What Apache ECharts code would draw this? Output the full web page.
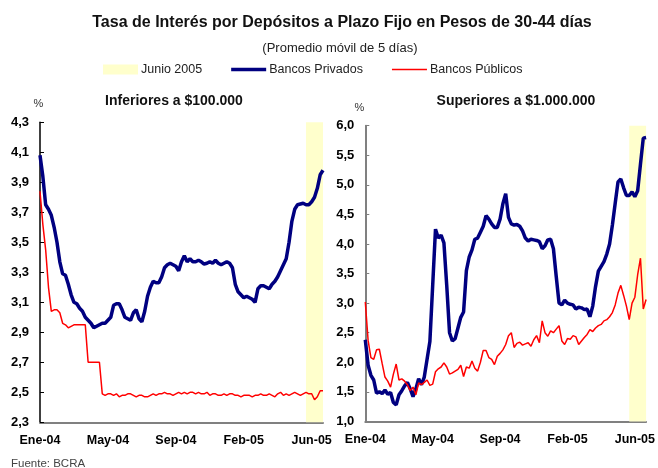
<!DOCTYPE html>
<html>
<head>
<meta charset="utf-8">
<title>Tasa de Interés por Depósitos a Plazo Fijo</title>
<script src="https://cdn.jsdelivr.net/npm/echarts@6/dist/echarts.min.js"></script>
<style>
    html, body { margin: 0; padding: 0; background: #fff; }
    #main { width: 658px; height: 468px; }
</style>
</head>
<body>
<div id="main"></div>
<script>
// etiquetas del eje x (una cada 24 puntos)
var tickLabels = ['Ene-04', 'May-04', 'Sep-04', 'Feb-05', 'Jun-05'];
var tickEvery = 24;
var shadeFrom = 94; // comienzo de junio 2005

// Inferiores a $100.000
var privadosInf = [4.08, 3.94, 3.75, 3.72, 3.68, 3.60, 3.50, 3.37, 3.29, 3.28,
    3.22, 3.15, 3.10, 3.09, 3.06, 3.04, 3.00, 2.98, 2.96, 2.93,
    2.94, 2.95, 2.96, 2.96, 2.98, 3.00, 3.08, 3.09, 3.09, 3.05,
    3.00, 2.99, 2.98, 3.03, 3.05, 2.99, 2.97, 3.04, 3.14, 3.20,
    3.24, 3.23, 3.23, 3.27, 3.33, 3.35, 3.36, 3.35, 3.34, 3.31,
    3.37, 3.41, 3.37, 3.39, 3.37, 3.37, 3.38, 3.37, 3.355, 3.36,
    3.37, 3.36, 3.38, 3.36, 3.35, 3.36, 3.37, 3.36, 3.33, 3.22,
    3.17, 3.15, 3.13, 3.14, 3.13, 3.12, 3.10, 3.19, 3.21, 3.21,
    3.20, 3.19, 3.22, 3.24, 3.27, 3.31, 3.35, 3.39, 3.50, 3.64,
    3.72, 3.75, 3.755, 3.76, 3.75, 3.75, 3.77, 3.80, 3.86, 3.95,
    3.98];
var publicosInf = [3.84, 3.62, 3.45, 3.20, 3.04, 3.05, 3.05, 3.03, 2.96, 2.95,
    2.93, 2.94, 2.95, 2.95, 2.95, 2.95, 2.95, 2.70, 2.70, 2.70,
    2.70, 2.70, 2.49, 2.48, 2.49, 2.49, 2.48, 2.49, 2.47, 2.48,
    2.48, 2.49, 2.49, 2.48, 2.47, 2.48, 2.48, 2.47, 2.47, 2.48,
    2.49, 2.48, 2.49, 2.49, 2.50, 2.49, 2.49, 2.48, 2.49, 2.50,
    2.49, 2.50, 2.49, 2.50, 2.50, 2.49, 2.50, 2.49, 2.49, 2.50,
    2.48, 2.49, 2.49, 2.48, 2.48, 2.49, 2.48, 2.49, 2.49, 2.48,
    2.48, 2.47, 2.48, 2.48, 2.48, 2.47, 2.48, 2.48, 2.49, 2.48,
    2.48, 2.49, 2.48, 2.47, 2.49, 2.50, 2.48, 2.49, 2.48, 2.49,
    2.50, 2.49, 2.48, 2.49, 2.50, 2.49, 2.49, 2.45, 2.47, 2.51,
    2.51];

// Superiores a $1.000.000
var privadosSup = [2.38, 1.95, 1.78, 1.70, 1.48, 1.50, 1.47, 1.53, 1.46, 1.49,
    1.32, 1.28, 1.45, 1.52, 1.60, 1.66, 1.55, 1.42, 1.55, 1.72,
    1.62, 1.75, 2.05, 2.35, 3.30, 4.25, 4.10, 4.15, 4.02, 3.30,
    2.50, 2.36, 2.40, 2.58, 2.76, 2.85, 3.55, 3.78, 3.90, 4.08,
    4.10, 4.20, 4.30, 4.48, 4.42, 4.34, 4.28, 4.28, 4.42, 4.68,
    4.85, 4.45, 4.34, 4.32, 4.33, 4.30, 4.22, 4.10, 4.05, 4.08,
    4.07, 4.06, 4.04, 3.92, 3.97, 4.07, 4.08, 3.92, 3.45, 3.00,
    2.97, 3.05, 3.00, 2.98, 2.97, 2.90, 2.93, 2.92, 2.89, 2.90,
    2.77, 2.95, 3.28, 3.54, 3.62, 3.70, 3.83, 4.00, 4.32, 4.69,
    5.05, 5.10, 4.95, 4.82, 4.82, 4.88, 4.80, 4.90, 5.35, 5.79,
    5.80];
var publicosSup = [3.02, 2.37, 2.08, 2.05, 2.21, 2.22, 1.98, 1.75, 1.68, 1.58,
    1.80, 1.97, 1.70, 1.72, 1.68, 1.62, 1.52, 1.58, 1.45, 1.65,
    1.62, 1.66, 1.70, 1.61, 1.63, 1.84, 1.89, 1.92, 1.99, 1.92,
    1.80, 1.82, 1.85, 1.88, 1.95, 1.76, 1.92, 1.90, 2.02, 1.90,
    1.85, 2.00, 2.20, 2.20, 2.08, 2.05, 1.96, 2.10, 2.15, 2.21,
    2.30, 2.45, 2.50, 2.25, 2.32, 2.34, 2.29, 2.31, 2.33, 2.27,
    2.38, 2.45, 2.33, 2.70, 2.50, 2.44, 2.53, 2.50, 2.56, 2.62,
    2.36, 2.30, 2.40, 2.39, 2.45, 2.43, 2.30, 2.36, 2.42, 2.47,
    2.55, 2.52, 2.58, 2.62, 2.64, 2.70, 2.72, 2.77, 2.84, 2.97,
    3.17, 3.30, 3.13, 2.95, 2.72, 3.00, 3.10, 3.48, 3.76, 2.90,
    3.06];

var categories = [];
for (var i = 0; i < privadosInf.length; i++) {
    categories.push(i % tickEvery === 0 ? tickLabels[i / tickEvery] : 'd' + i);
}

var grafico = {
    init() {
        var myChart = echarts.init(document.getElementById('main'));
        myChart.setOption(grafico.option());
    },
    xAxis(idx) {
        return {
            type: 'category',
            gridIndex: idx,
            data: categories,
            boundaryGap: false,
            axisLine: { lineStyle: { color: '#808080', width: 2 } },
            axisTick: { show: false },
            axisLabel: {
                interval: function (i) { return i % tickEvery === 0; },
                formatter: function (v) { return v.charAt(0) === 'd' ? '' : v; },
                color: '#000',
                fontWeight: 'bold',
                fontSize: 12.5,
                margin: 12
            }
        };
    },
    yAxis(idx, min, max, step, color, nameGap) {
        return {
            type: 'value',
            gridIndex: idx,
            min: min,
            max: max,
            interval: step,
            name: '%',
            nameLocation: 'end',
            nameGap: nameGap,
            nameTextStyle: { color: '#333', fontSize: 11, padding: idx ? [0, 12, 0, 0] : [0, 3, 0, 0] },
            splitLine: { show: false },
            axisLine: { show: true, lineStyle: { color: color, width: idx ? 2 : 1.5 } },
            axisTick: { show: true, inside: true, length: 4, lineStyle: { color: color } },
            axisLabel: {
                color: '#000',
                fontWeight: 'bold',
                fontSize: 13,
                margin: 11,
                formatter: function (v) { return v.toFixed(1).replace('.', ','); }
            }
        };
    },
    serie(name, idx, data, color, width) {
        return {
            name: name,
            type: 'line',
            xAxisIndex: idx,
            yAxisIndex: idx,
            data: data,
            symbol: 'none',
            z: 3,
            lineStyle: { color: color, width: width },
            itemStyle: { color: color }
        };
    },
    banda(idx) {
        return {
            name: 'Junio 2005',
            type: 'line',
            xAxisIndex: idx,
            yAxisIndex: idx,
            data: [],
            z: 1,
            itemStyle: { color: '#FFFFCC' },
            markArea: {
                silent: true,
                itemStyle: { color: '#FFFFCC' },
                data: [[{ xAxis: categories[shadeFrom] }, { xAxis: categories[categories.length - 1] }]]
            }
        };
    },
    option() {
        return {
            animation: false,
            backgroundColor: '#fff',
            textStyle: { fontFamily: 'Liberation Sans, Arial, sans-serif' },
            title: [
                { text: 'Tasa de Interés por Depósitos a Plazo Fijo en Pesos de 30-44 días', left: 337, top: 10, textAlign: 'center',
                  textStyle: { fontSize: 16, fontWeight: 'bold', color: '#111' } },
                { text: '(Promedio móvil de 5 días)', left: 335, top: 37, textAlign: 'center',
                  textStyle: { fontSize: 13, fontWeight: 'normal', color: '#222' } },
                { text: 'Inferiores a $100.000', left: 169, top: 89, textAlign: 'center',
                  textStyle: { fontSize: 14, fontWeight: 'bold', color: '#111' } },
                { text: 'Superiores a $1.000.000', left: 511, top: 89, textAlign: 'center',
                  textStyle: { fontSize: 14, fontWeight: 'bold', color: '#111' } },
                { text: 'Fuente: BCRA', left: 6, top: 453,
                  textStyle: { fontSize: 11.5, fontWeight: 'normal', color: '#444' } }
            ],
            legend: {
                left: 103,
                top: 63,
                padding: 0,
                itemWidth: 35,
                itemHeight: 10,
                itemGap: 29,
                textStyle: { fontSize: 12.5, color: '#222', padding: [0, 0, 0, -2] },
                data: [
                    { name: 'Junio 2005', icon: 'rect' },
                    { name: 'Bancos Privados', icon: 'path://M0,0 M0,3.2 L35,3.2 L35,6.8 L0,6.8 Z M35,10' },
                    { name: 'Bancos Públicos', icon: 'path://M0,0 M0,4.2 L35,4.2 L35,5.8 L0,5.8 Z M35,10' }
                ]
            },
            grid: [
                { left: 40, top: 122.3, width: 283, height: 300 },
                { left: 365.3, top: 125.7, width: 283, height: 295.7 }
            ],
            xAxis: [grafico.xAxis(0), grafico.xAxis(1)],
            yAxis: [
                grafico.yAxis(0, 2.3, 4.3, 0.2, '#000', 13),
                grafico.yAxis(1, 1.0, 6.0, 0.5, '#808080', 12)
            ],
            series: [
                grafico.banda(0),
                grafico.banda(1),
                grafico.serie('Bancos Privados', 0, privadosInf, '#000080', 3.5),
                grafico.serie('Bancos Públicos', 0, publicosInf, '#FF0000', 1.5),
                grafico.serie('Bancos Privados', 1, privadosSup, '#000080', 3.5),
                grafico.serie('Bancos Públicos', 1, publicosSup, '#FF0000', 1.5)
            ]
        };
    }
};
grafico.init();
</script>
</body>
</html>
